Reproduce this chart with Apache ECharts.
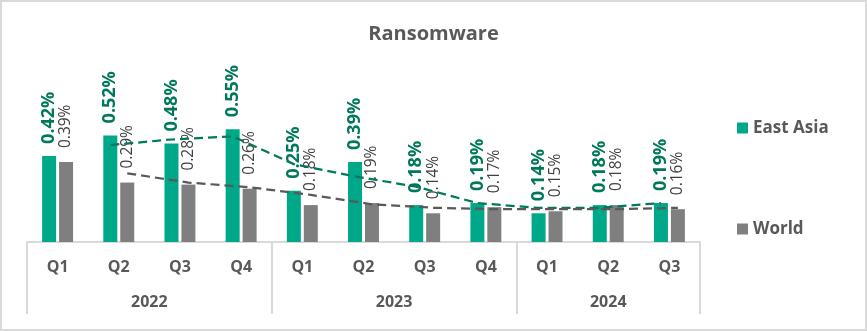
<!DOCTYPE html>
<html>
<head>
<meta charset="utf-8">
<script src="https://cdn.jsdelivr.net/npm/echarts@6/dist/echarts.min.js"></script>
<style>
html,body{margin:0;padding:0;background:#fff;}
#chart{width:867px;height:331px;}
</style>
</head>
<body>
<div id="chart"></div>
<script>
// ---- data ----
const quarters = ['Q1','Q2','Q3','Q4','Q1','Q2','Q3','Q4','Q1','Q2','Q3'];
const years = ['2022','2023','2024'];
const yearCounts = [4, 4, 3];
const eastAsia = [0.42, 0.52, 0.48, 0.55, 0.25, 0.39, 0.18, 0.19, 0.14, 0.18, 0.19];
const world = [0.39, 0.29, 0.28, 0.26, 0.18, 0.19, 0.14, 0.17, 0.15, 0.18, 0.16];
// trend lines (dashed)
const eastAsiaTrend = [null, 0.473, 0.50, 0.515, 0.38, 0.32, 0.27, 0.19, 0.166, 0.167, 0.19];
const worldTrend = [null, 0.335, 0.29, 0.267, 0.23, 0.184, 0.167, 0.16, 0.16, 0.16, 0.167];

// ---- derived helpers ----
const n = quarters.length;
const boundaries = [-0.5];
const centers = [];
let acc = 0;
yearCounts.forEach(c => { centers.push(acc + c / 2 - 0.5); acc += c; boundaries.push(acc - 0.5); });

const GREEN = '#00A88A';
const GREEN_TXT = '#00785C';
const GRAY = '#7F7F7F';
const TXT = '#595959';
const LBL = '#404040';
const FONT = '"Open Sans", sans-serif';
const barW = 14, gapPct = 0.21;
const catPx = (867 - 27 - 167) / n;
const off = (barW * (1 + gapPct) / 2) / catPx;

const toPairs = arr => arr.map((v, i) => v == null ? null : [i, v]).filter(p => p);

const chart = echarts.init(document.getElementById('chart'), null, {renderer: 'canvas'});
chart.setOption({
  animation: false,
  backgroundColor: '#fff',
  textStyle: {fontFamily: FONT},
  title: {
    text: 'Ransomware', left: 'center', top: 19,
    textStyle: {fontFamily: FONT, fontSize: 20, fontWeight: 'bold', color: TXT}
  },
  graphic: [{
    type: 'rect', shape: {x: 1, y: 1, width: 865, height: 329},
    style: {fill: 'none', stroke: '#D9D9D9', lineWidth: 2}, silent: true
  }],
  legend: {
    data: ['East Asia', 'World'], orient: 'vertical', left: 732, top: 113,
    icon: 'rect', itemWidth: 11, itemHeight: 11, itemGap: 81,
    textStyle: {fontFamily: FONT, fontSize: 17, fontWeight: 'bold', color: TXT, lineHeight: 20}
  },
  grid: {left: 27, right: 167, top: 78, bottom: 89, containLabel: false},
  xAxis: [
    {
      type: 'category', data: quarters, position: 'bottom',
      axisLine: {show: true, lineStyle: {color: '#D9D9D9', width: 2}},
      axisTick: {show: false},
      axisLabel: {interval: 0, margin: 17, fontFamily: FONT, fontSize: 16, fontWeight: 'bold', color: TXT}
    },
    {
      type: 'value', min: -0.5, max: n - 0.5, position: 'bottom',
      axisLine: {show: false}, splitLine: {show: false},
      axisTick: {show: true, inside: false, length: 72, customValues: boundaries,
                 lineStyle: {color: '#D9D9D9', width: 2}},
      axisLabel: {show: true, margin: 52, customValues: centers,
                  formatter: v => { const k = centers.findIndex(c => Math.abs(c - v) < 1e-6); return k >= 0 ? years[k] : ''; },
                  fontFamily: FONT, fontSize: 16, fontWeight: 'bold', color: TXT}
    },
    {type: 'value', min: -0.5 + off, max: n - 0.5 + off, show: false},
    {type: 'value', min: -0.5 - off, max: n - 0.5 - off, show: false}
  ],
  yAxis: {type: 'value', min: 0, max: 0.8, show: false, splitLine: {show: false}},
  series: [
    {
      name: 'East Asia', type: 'bar', xAxisIndex: 0, data: eastAsia,
      barWidth: barW, barGap: (gapPct * 100) + '%',
      itemStyle: {color: GREEN},
      label: {show: true, position: 'top', rotate: 90, align: 'left', verticalAlign: 'middle', distance: 12,
              formatter: p => p.value.toFixed(2) + '%',
              fontFamily: FONT, fontSize: 18, fontWeight: 'bold', color: GREEN_TXT}
    },
    {
      name: 'World', type: 'bar', xAxisIndex: 0, data: world,
      barWidth: barW, barGap: (gapPct * 100) + '%',
      itemStyle: {color: GRAY},
      label: {show: true, position: 'top', rotate: 90, align: 'left', verticalAlign: 'middle', distance: 14,
              formatter: p => p.value.toFixed(2) + '%',
              fontFamily: FONT, fontSize: 15.5, fontWeight: 'normal', color: LBL}
    },
    {
      name: 'East Asia trend', type: 'line', xAxisIndex: 2, data: toPairs(eastAsiaTrend),
      symbol: 'none', smooth: false, z: 5,
      lineStyle: {color: GREEN_TXT, width: 2.25, type: [9, 5]}
    },
    {
      name: 'World trend', type: 'line', xAxisIndex: 3, data: toPairs(worldTrend),
      symbol: 'none', smooth: false, z: 5,
      lineStyle: {color: TXT, width: 2.25, type: [9, 5]}
    }
  ]
});
</script>
</body>
</html>
